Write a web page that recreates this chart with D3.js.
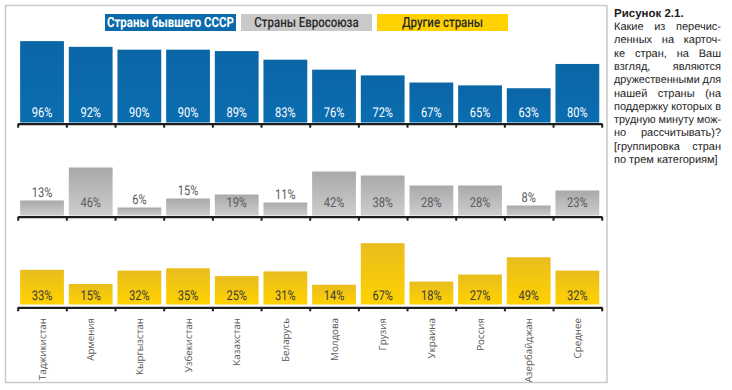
<!DOCTYPE html>
<html><head><meta charset="utf-8">
<script src="https://cdn.jsdelivr.net/npm/d3@7"></script>
<style>
html,body{margin:0;padding:0;background:#fff;}
svg{display:block;text-rendering:geometricPrecision;}
</style></head>
<body>
<svg id="chart" width="732" height="390"></svg>
<script>
const countries = ["Таджикистан","Армения","Кыргызстан","Узбекистан","Казахстан","Беларусь","Молдова","Грузия","Украина","Россия","Азербайджан","Среднее"];
const formerUSSR = [96,92,90,90,89,83,76,72,67,65,63,80];
const euCountries = [13,46,6,15,19,11,42,38,28,28,8,23];
const otherCountries = [33,15,32,35,25,31,14,67,18,27,49,32];
const legendLabels = ["Страны бывшего СССР","Страны Евросоюза","Другие страны"];
const captionTitle = "Рисунок 2.1.";
const captionLines = ["Какие из перечис-","ленных на карточ-","ке стран, на Ваш","взгляд, являются","дружественными для","нашей страны (на","поддержку которых в","трудную минуту мож-","но рассчитывать)?","[группировка стран","по трем категориям]"];

const COND = "Roboto, 'Noto Sans', sans-serif";
const SQ = 0.82;

const svg = d3.select("#chart");
const defs = svg.append("defs");
function grad(id, top, bottom){
  const g = defs.append("linearGradient").attr("id", id).attr("x1",0).attr("y1",0).attr("x2",0).attr("y2",1);
  g.append("stop").attr("offset","0%").attr("stop-color", top);
  g.append("stop").attr("offset","100%").attr("stop-color", bottom);
}
grad("gBlue", "#0b66a6", "#0a6db0");
grad("gGray", "#a9a9aa", "#cdcdce");
grad("gYellow", "#e9bd1e", "#ffd200");

// frame
svg.append("rect").attr("x",5.5).attr("y",5.5).attr("width",601.5).attr("height",377)
  .attr("fill","none").attr("stroke","#c9c9c9").attr("stroke-width",1.5);

const x0 = 17.7, x1 = 601.7;
const x = d3.scaleBand().domain(countries).range([x0, x1]).paddingInner(0.1).paddingOuter(0.05);
const xi = d3.scaleLinear().domain([0, countries.length]).range([x0, x1]);

const panels = [
  {data: formerUSSR, y: d3.scaleLinear().domain([39,100]).range([122.5,35.4]), axisY:123.7, fill:"url(#gBlue)", text:"#ffffff", inside:()=>true, labelInY:117},
  {data: euCountries, y: d3.scaleLinear().domain([-2,50]).range([215.5,163.5]), axisY:216.7, fill:"url(#gGray)", text:"#5a5a5a", inside:v=>v>=19, labelInY:206.8},
  {data: otherCountries, y: d3.scaleLinear().domain([-11.2,70]).range([304.5,240.8]), axisY:307.3, fill:"url(#gYellow)", text:"#3a3a3a", inside:()=>true, labelInY:299.5}
];

panels.forEach(p => {
  const g = svg.append("g");
  const base = p.y.range()[0];
  g.selectAll("rect").data(p.data).join("rect")
    .attr("x",(d,i)=>x(countries[i]))
    .attr("width", x.bandwidth())
    .attr("y", d=>p.y(d))
    .attr("height", d=>base - p.y(d))
    .attr("fill", p.fill);
  g.selectAll("text").data(p.data).join("text")
    .attr("transform",(d,i)=>`translate(${x(countries[i]) + x.bandwidth()/2},${p.inside(d) ? p.labelInY : p.y(d) - 3.5}) scale(${SQ},1)`)
    .attr("text-anchor","middle")
    .attr("font-family", COND)
    .attr("font-size", 13.5)
    .attr("fill", p.text)
    .text(d=>d+"%");
  const ax = svg.append("g").attr("transform",`translate(0,${p.axisY})`)
    .call(d3.axisBottom(xi).tickValues(d3.range(countries.length+1)).tickSize(4).tickSizeOuter(0).tickFormat(""));
  ax.select(".domain").attr("stroke","#1d1d1d").attr("stroke-width",2.2);
  ax.selectAll(".tick line").attr("stroke","#1d1d1d").attr("stroke-width",2);
});

// country labels
svg.append("g").selectAll("text").data(countries).join("text")
  .attr("transform", d=>`translate(${x(d)+x.bandwidth()/2+3.5},318) rotate(-90)`)
  .attr("text-anchor","end")
  .attr("font-family","'Open Sans','Noto Sans',sans-serif")
  .attr("font-size",9.8)
  .attr("fill","#5a5a5a")
  .text(d=>d);

// legend
const legend = [
  {x:105, w:131, fill:"#0b6aab", color:"#ffffff", weight:700},
  {x:241, w:131, fill:"#c9c9c9", color:"#2a2a2a", weight:500},
  {x:377, w:131, fill:"#ffd200", color:"#2a2a2a", weight:500}
];
const lg = svg.append("g").selectAll("g").data(legendLabels).join("g");
lg.append("rect").attr("x",(d,i)=>legend[i].x).attr("y",14).attr("width",(d,i)=>legend[i].w).attr("height",17)
  .attr("fill",(d,i)=>legend[i].fill);
lg.append("text")
  .attr("transform",(d,i)=>`translate(${legend[i].x+legend[i].w/2},27.3) scale(${SQ},1)`)
  .attr("text-anchor","middle").attr("font-family",COND).attr("font-size",14).attr("font-weight",(d,i)=>legend[i].weight)
  .attr("fill",(d,i)=>legend[i].color).text(d=>d);

// caption (justified)
const cx0 = 614, cx1 = 721, W = cx1 - cx0;
const cap = svg.append("g").attr("font-family","'Liberation Sans',Arial,sans-serif").attr("fill","#222");
cap.append("text").attr("x",cx0).attr("y",16.5).attr("font-size",11.5).attr("font-weight","bold").text(captionTitle);
captionLines.forEach((line,li) => {
  const yy = 30 + li*13.3;
  const words = line.split(" ");
  const last = li === captionLines.length-1;
  const lgp = cap.append("g");
  const tmp = words.map(w => lgp.append("text").attr("font-size",11).attr("y",yy).text(w));
  const widths = tmp.map(t=>t.node().getComputedTextLength());
  const total = d3.sum(widths);
  const minGap = 3;
  let sx = 1;
  const natural = total + minGap*(words.length-1);
  if (natural > W) sx = W / natural;
  let gap = minGap;
  if (!last && words.length > 1) gap = Math.max(minGap, (W/sx - total)/(words.length-1));
  let cur = 0;
  tmp.forEach((t,k)=>{ t.attr("x",cur); cur += widths[k] + gap; });
  lgp.attr("transform",`translate(${cx0},0) scale(${sx},1)`);
});
</script>
</body></html>
